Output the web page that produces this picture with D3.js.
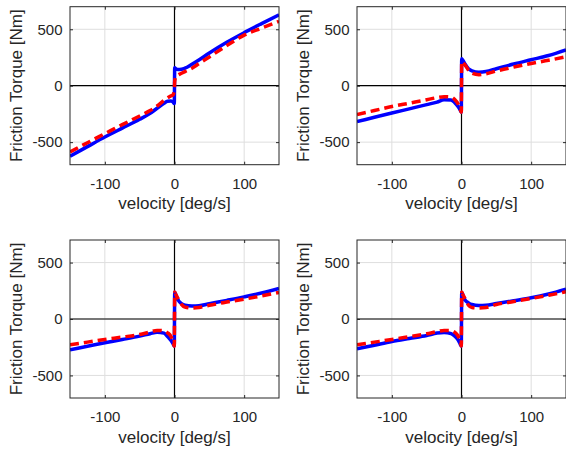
<!DOCTYPE html>
<html>
<head>
<meta charset="utf-8">
<script src="https://cdn.jsdelivr.net/npm/d3@7"></script>
<style>
  body { margin: 0; background: #fff; }
  svg { display: block; }
  .tick text { font-family: "Liberation Sans", Arial, sans-serif; font-size: 15px; fill: #262626; }
  .lbl { font-family: "Liberation Sans", Arial, sans-serif; font-size: 17px; fill: #262626; }
</style>
</head>
<body>
<script>
// velocity grid shared by all curves [deg/s]
var velocity = [-150, -125, -100, -75, -50, -35, -25, -15, -10, -5, -2, -0.3,
                0.3, 2, 5, 10, 15, 25, 35, 50, 75, 100, 125, 150];

// solid blue curves, one per panel [Nm]
var solid1 = [-625, -540, -455, -376, -298, -245, -200, -155, -137, -135, -145, -158,
              158, 150, 143, 145, 155, 190, 228, 290, 385, 470, 550, 628];
var solid2 = [-318, -280, -242, -205, -168, -145, -125, -127, -148, -185, -215, -235,
              238, 225, 192, 150, 132, 120, 125, 150, 192, 230, 268, 318];
var solid3 = [-273, -242, -211, -182, -152, -130, -117, -125, -155, -190, -220, -240,
              236, 215, 170, 137, 122, 115, 117, 135, 165, 196, 230, 271];
var solid4 = [-265, -232, -199, -172, -146, -125, -120, -130, -150, -185, -220, -240,
              236, 215, 170, 143, 128, 120, 122, 137, 162, 188, 222, 265];

// dashed red curves, one per panel [Nm]
var dashed1 = [-588, -505, -425, -345, -268, -220, -180, -130, -108, -90, -80, -40,
               40, 80, 95, 110, 125, 155, 195, 255, 355, 448, 510, 570];
var dashed2 = [-255, -220, -185, -155, -125, -105, -97, -100, -120, -160, -205, -235,
               215, 205, 185, 138, 110, 97, 105, 130, 165, 197, 225, 256];
var dashed3 = [-229, -205, -181, -160, -137, -115, -101, -105, -122, -155, -200, -240,
               240, 215, 182, 130, 105, 97, 102, 122, 150, 176, 205, 236];
var dashed4 = [-229, -205, -181, -156, -131, -112, -101, -102, -116, -150, -195, -240,
               240, 215, 180, 122, 102, 98, 102, 128, 155, 182, 210, 241];

var xTicks = [-100, 0, 100];
var yTicks = [-500, 0, 500];
var xLabel = "velocity [deg/s]";
var yLabel = "Friction Torque [Nm]";

var W = 566, H = 456;
var pw = 209, ph = 158;
var panels = [
  {left: 70,  top: 6.7, solid: solid1, dashed: dashed1},
  {left: 357, top: 6.7, solid: solid2, dashed: dashed2},
  {left: 70,  top: 240, solid: solid3, dashed: dashed3},
  {left: 357, top: 240, solid: solid4, dashed: dashed4}
];

var svg = d3.select("body").append("svg")
  .attr("width", W).attr("height", H);
svg.append("rect").attr("width", W).attr("height", H).attr("fill", "#fff");

var x = d3.scaleLinear().domain([-150, 150]).range([0, pw]);
var y = d3.scaleLinear().domain([-700, 700]).range([ph, 0]);

var line = d3.line()
  .x(function(d) { return x(d[0]); })
  .y(function(d) { return y(d[1]); })
  .curve(d3.curveMonotoneX);

panels.forEach(function(p, i) {
  var g = svg.append("g").attr("transform", "translate(" + p.left + "," + p.top + ")");

  g.append("clipPath").attr("id", "clip" + i)
    .append("rect").attr("width", pw).attr("height", ph);

  // grid
  g.append("g").selectAll("line.gx").data(xTicks).enter().append("line")
    .attr("x1", function(d) { return x(d); }).attr("x2", function(d) { return x(d); })
    .attr("y1", 0).attr("y2", ph)
    .attr("stroke", "#dedede").attr("stroke-width", 1);
  g.append("g").selectAll("line.gy").data(yTicks).enter().append("line")
    .attr("y1", function(d) { return y(d); }).attr("y2", function(d) { return y(d); })
    .attr("x1", 0).attr("x2", pw)
    .attr("stroke", "#dedede").attr("stroke-width", 1);

  // zero lines
  g.append("line").attr("x1", x(0)).attr("x2", x(0)).attr("y1", 0).attr("y2", ph)
    .attr("stroke", "#000").attr("stroke-width", 1.2);
  g.append("line").attr("x1", 0).attr("x2", pw).attr("y1", y(0)).attr("y2", y(0))
    .attr("stroke", "#000").attr("stroke-width", 1.2);

  var plot = g.append("g").attr("clip-path", "url(#clip" + i + ")");
  plot.append("path")
    .datum(velocity.map(function(v, k) { return [v, p.solid[k]]; }))
    .attr("d", line)
    .attr("fill", "none").attr("stroke", "#0000ff").attr("stroke-width", 3.5);
  plot.append("path")
    .datum(velocity.map(function(v, k) { return [v, p.dashed[k]]; }))
    .attr("d", line)
    .attr("fill", "none").attr("stroke", "#ff0000").attr("stroke-width", 3.5)
    .attr("stroke-dasharray", "9,5");

  // axes with inward ticks
  var ax = g.append("g").attr("transform", "translate(0," + ph + ")")
    .call(d3.axisBottom(x).tickValues(xTicks).tickSize(-3).tickPadding(13.8).tickFormat(d3.format("d")));
  var ay = g.append("g")
    .call(d3.axisLeft(y).tickValues(yTicks).tickSize(-3).tickPadding(7.5).tickFormat(d3.format("d")));
  var at = g.append("g")
    .call(d3.axisTop(x).tickValues(xTicks).tickSize(-3).tickFormat(""));
  var ar = g.append("g").attr("transform", "translate(" + pw + ",0)")
    .call(d3.axisRight(y).tickValues(yTicks).tickSize(-3).tickFormat(""));
  [ax, ay, at, ar].forEach(function(a) {
    a.select(".domain").remove();
    a.selectAll(".tick line").attr("stroke", "#262626");
  });
  ax.selectAll(".tick text").text(function(d) { return d < 0 ? "-" + Math.abs(d) : d; });
  ay.selectAll(".tick text").text(function(d) { return d < 0 ? "-" + Math.abs(d) : d; });

  // box
  g.append("rect").attr("width", pw).attr("height", ph)
    .attr("fill", "none").attr("stroke", "#262626").attr("stroke-width", 1);

  g.append("text").attr("class", "lbl")
    .attr("x", pw / 2).attr("y", ph + 44.5)
    .attr("text-anchor", "middle").text(xLabel);
  g.append("text").attr("class", "lbl")
    .attr("transform", "translate(-48.5," + (ph / 2) + ") rotate(-90)")
    .attr("text-anchor", "middle").text(yLabel);
});
</script>
</body>
</html>
